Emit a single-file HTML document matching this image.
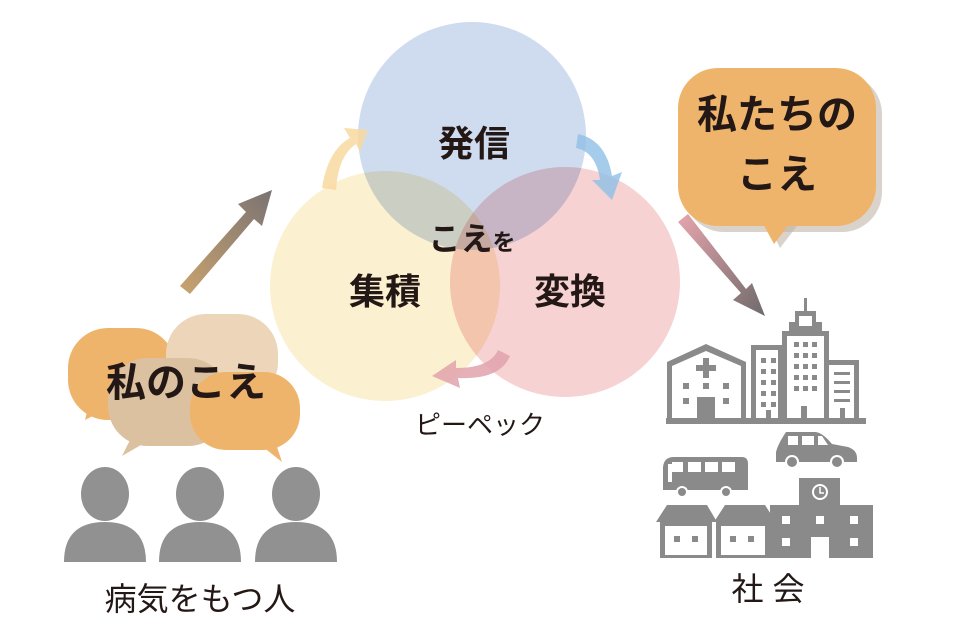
<!DOCTYPE html>
<html><head><meta charset="utf-8"><style>
html,body{margin:0;padding:0;background:#fff;width:960px;height:640px;overflow:hidden}
svg{display:block}
text{font-family:"Liberation Sans","Noto Sans CJK JP",sans-serif;fill:#231815}
</style></head><body>
<svg width="960" height="640" viewBox="0 0 960 640" xmlns="http://www.w3.org/2000/svg">
<defs>
<linearGradient id="ga" x1="0" y1="1" x2="1" y2="0"><stop offset="0" stop-color="#c9a36e"/><stop offset="1" stop-color="#7a7373"/></linearGradient>
<linearGradient id="gb" x1="0" y1="0" x2="1" y2="1"><stop offset="0" stop-color="#e6a5ad"/><stop offset="1" stop-color="#6f6a6b"/></linearGradient>
</defs>
<g style="mix-blend-mode:multiply">
<circle cx="472" cy="136" r="114" fill="#cfdcef"/>
</g>
<g>
<circle cx="385" cy="286" r="115" fill="#fbf0d0" style="mix-blend-mode:multiply"/>
<circle cx="565" cy="282" r="115" fill="#f6d2d3" style="mix-blend-mode:multiply"/>
</g>
<path d="M322 188 Q328 150 350 138 L344 128 L368 130 L360 152 L356 144 Q338 156 336 190 Z" fill="#f8d8a0" opacity="0.85"/>
<path d="M578 134 Q606 140 612 176 L622 172 L612 200 L592 180 L600 180 Q596 152 576 148 Z" fill="#8fbfe6" opacity="0.8"/>
<path d="M510 356 Q500 380 458 378 L460 388 L432 376 L456 360 L456 368 Q490 368 498 350 Z" fill="#e0a2ac" opacity="0.85"/>
<path d="M180 286 L246 212 L238 204 L272 190 L262 226 L254 219 L190 294 Z" fill="url(#ga)"/>
<path d="M678 222 L741 293 L733 300 L765 316 L752 283 L746 289 L688 214 Z" fill="url(#gb)"/>
<text x="474" y="156" font-size="36" font-weight="bold" text-anchor="middle">発信</text>
<text x="472" y="250" font-size="32" font-weight="bold" text-anchor="middle">こえ<tspan font-size="23">を</tspan></text>
<text x="385" y="304" font-size="36" font-weight="bold" text-anchor="middle">集積</text>
<text x="570" y="304" font-size="36" font-weight="bold" text-anchor="middle">変換</text>
<text x="480" y="434" font-size="26" text-anchor="middle">ピーペック</text>
<rect x="684" y="74" width="198" height="158" rx="40" fill="#bfb6a8" opacity="0.6"/>
<path d="M770 228 L780 248 L800 222 Z" fill="#bfb6a8" opacity="0.6"/>
<rect x="678" y="68" width="198" height="158" rx="40" fill="#efb46c"/>
<path d="M762 222 L774 244 L794 218 Z" fill="#efb46c"/>
<text x="777" y="128" font-size="40" font-weight="bold" text-anchor="middle">私たちの</text>
<text x="777" y="188" font-size="40" font-weight="bold" text-anchor="middle">こえ</text>
<rect x="68" y="328" width="108" height="92" rx="40" fill="#efb46c"/>
<path d="M88 408 L85 420 L104 410 Z" fill="#efb46c"/>
<rect x="166" y="314" width="112" height="88" rx="40" fill="#ecd5b8"/>
<rect x="108" y="358" width="120" height="88" rx="40" fill="#dcc1a0"/>
<path d="M130 440 L122 456 L146 442 Z" fill="#dcc1a0"/>
<rect x="190" y="372" width="110" height="78" rx="36" fill="#efb46c"/>
<path d="M262 446 L282 462 L276 444 Z" fill="#efb46c"/>
<text x="186" y="396" font-size="40" font-weight="bold" text-anchor="middle">私のこえ</text>
<g fill="#919191">
<ellipse cx="105" cy="494" rx="24" ry="27"/><path d="M64 562 Q64 522 105 522 Q146 522 146 562 Z"/>
<ellipse cx="200" cy="494" rx="24" ry="27"/><path d="M159 562 Q159 522 200 522 Q241 522 241 562 Z"/>
<ellipse cx="296" cy="494" rx="24" ry="27"/><path d="M255 562 Q255 522 296 522 Q337 522 337 562 Z"/>
</g>
<text x="200" y="610" font-size="32" text-anchor="middle">病気をもつ人</text>
<g fill="#8a8a8a">
<rect x="666" y="418" width="200" height="6"/>
<path d="M667 362 L706 344 L746 362 L746 420 L741 420 L741 366 L706 351 L672 366 L672 420 L667 420 Z"/>
<rect x="703" y="358" width="6" height="20"/><rect x="696" y="365" width="20" height="6"/>
<rect x="683" y="383" width="6" height="6"/><rect x="703" y="383" width="6" height="6"/><rect x="723" y="383" width="6" height="6"/>
<rect x="683" y="398" width="6" height="6"/><rect x="723" y="398" width="6" height="6"/>
<rect x="697" y="397" width="18" height="22"/>
<path d="M751 345 L783 345 L783 420 L778 420 L778 350 L756 350 L756 420 L751 420 Z"/>
<g><rect x="761" y="358" width="5" height="5"/><rect x="771" y="358" width="5" height="5"/><rect x="761" y="369" width="5" height="5"/><rect x="771" y="369" width="5" height="5"/><rect x="761" y="380" width="5" height="5"/><rect x="771" y="380" width="5" height="5"/><rect x="761" y="391" width="5" height="5"/><rect x="771" y="391" width="5" height="5"/><rect x="761" y="402" width="5" height="5"/><rect x="771" y="402" width="5" height="5"/><rect x="766" y="410" width="5" height="10"/></g>
<rect x="804" y="298" width="3" height="14"/>
<path d="M795 311 L816 311 L816 322 L822 322 L822 331 L829 331 L829 420 L824 420 L824 336 L787 336 L787 420 L782 420 L782 331 L789 331 L789 322 L795 322 Z M799 316 L799 326 L812 326 L812 316 Z"/>
<g><rect x="794" y="342" width="5" height="5"/><rect x="803" y="342" width="5" height="5"/><rect x="812" y="342" width="5" height="5"/><rect x="794" y="353" width="5" height="5"/><rect x="803" y="353" width="5" height="5"/><rect x="812" y="353" width="5" height="5"/><rect x="794" y="364" width="5" height="5"/><rect x="803" y="364" width="5" height="5"/><rect x="812" y="364" width="5" height="5"/><rect x="794" y="375" width="5" height="5"/><rect x="803" y="375" width="5" height="5"/><rect x="812" y="375" width="5" height="5"/><rect x="794" y="386" width="5" height="5"/><rect x="803" y="386" width="5" height="5"/><rect x="812" y="386" width="5" height="5"/><rect x="801" y="406" width="6" height="14"/></g>
<path d="M829 360 L859 360 L859 420 L854 420 L854 365 L829 365 Z"/>
<rect x="834" y="372" width="16" height="3"/><rect x="834" y="381" width="16" height="3"/><rect x="834" y="390" width="16" height="3"/><rect x="834" y="399" width="16" height="3"/><rect x="840" y="408" width="5" height="12"/>
<path d="M776 462 L776 452 Q778 444 786 432 L815 432 Q822 432 832 444 L848 447 Q857 450 857 458 L857 462 Z"/>
<rect x="788" y="436" width="10" height="9" fill="#fff"/><rect x="802" y="436" width="12" height="9" fill="#fff"/><path d="M818 436 L822 436 L828 445 L818 445 Z" fill="#fff"/>
<circle cx="792" cy="462" r="7" fill="#fff"/><circle cx="792" cy="462" r="5"/>
<circle cx="837" cy="462" r="7" fill="#fff"/><circle cx="837" cy="462" r="5"/>
<path d="M663 490 L663 467 Q664 457 674 457 L742 457 Q748 457 748 464 L748 490 Z"/>
<rect x="672" y="462" width="11" height="10" fill="#fff"/><rect x="688" y="462" width="13" height="10" fill="#fff"/><rect x="705" y="462" width="13" height="10" fill="#fff"/><rect x="722" y="462" width="13" height="10" fill="#fff"/><rect x="668" y="464" width="4" height="18" fill="#fff"/>
<circle cx="682" cy="492" r="6" fill="#fff"/><circle cx="682" cy="492" r="4"/>
<circle cx="726" cy="492" r="6" fill="#fff"/><circle cx="726" cy="492" r="4"/>
<path d="M656 522 L667 505 L707 505 L717 522 Z"/>
<path d="M660 522 L712 522 L712 558 L660 558 Z M665 526 L665 555 L707 555 L707 526 Z"/>
<rect x="674" y="536" width="6" height="6"/><rect x="692" y="536" width="6" height="6"/>
<path d="M714 522 L725 505 L765 505 L776 522 Z"/>
<path d="M716 522 L770 522 L770 558 L716 558 Z M721 526 L721 555 L765 555 L765 526 Z"/>
<rect x="730" y="536" width="6" height="6"/><rect x="748" y="536" width="6" height="6"/>
<path d="M799 478 L840 478 L840 505 L873 505 L873 558 L770 558 L770 505 L799 505 Z"/>
<circle cx="820" cy="492" r="8" fill="#fff"/><circle cx="820" cy="492" r="6"/><path d="M820 487 L820 493 L824 493" stroke="#fff" stroke-width="1.5" fill="none"/>
<g fill="#fff"><rect x="782" y="516" width="8" height="8"/><rect x="816" y="516" width="8" height="8"/><rect x="850" y="516" width="8" height="8"/><rect x="782" y="538" width="8" height="8"/><rect x="850" y="538" width="8" height="8"/><rect x="811" y="537" width="18" height="21"/></g>
</g>
<text x="768" y="600" font-size="32" text-anchor="middle">社 会</text>
</svg>
</body></html>
